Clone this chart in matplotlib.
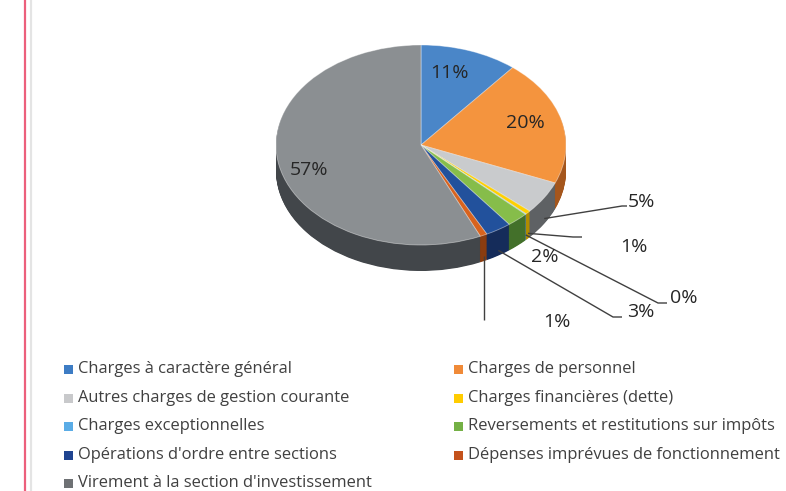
import matplotlib
matplotlib.use('Agg')
import matplotlib.pyplot as plt
import numpy as np
from matplotlib.patches import Rectangle
from matplotlib.lines import Line2D

# ---------------- data ----------------
categories = [
    "Charges à caractère général",
    "Charges de personnel",
    "Autres charges de gestion courante",
    "Charges financières (dette)",
    "Charges exceptionnelles",
    "Reversements et restitutions sur impôts",
    "Opérations d'ordre entre sections",
    "Dépenses imprévues de fonctionnement",
    "Virement à la section d'investissement",
]
values = [10.9, 20.3, 5.3, 0.6, 0.1, 2.4, 2.9, 0.8, 56.7]

top_colors = ["#4a86c8", "#f4943e", "#c9cbcd", "#ffd000", "#5aa9e0",
              "#86bd4a", "#22519c", "#d8631e", "#8b8f92"]
side_colors = ["#2c5a8c", "#a5561c", "#5e6164", "#b08c00", "#3a77a8",
               "#43702a", "#152c5a", "#8a3c10", "#42464a"]
legend_colors = ["#3d7cc4", "#f08a38", "#c8c9cb", "#ffcc00", "#5aace6",
                 "#74b045", "#1f4490", "#c4521c", "#6e7174"]

# ---------------- figure ----------------
W, H = 786, 491
fig = plt.figure(figsize=(W / 100, H / 100), dpi=100)
ax = fig.add_axes([0, 0, 1, 1])

CX, CY, RX, RY = 421, 145, 145, 100
DEPTH = 26
d = DEPTH / RY


def px2d(px, py):
    return ((px - CX) / RX, (CY - py) / RY)


# side (extruded) layers
N = 40
for k in range(N):
    off = -d + d * k / N
    ax.pie(values, colors=side_colors, startangle=90, counterclock=False,
           center=(0, off), radius=1,
           wedgeprops=dict(linewidth=0.3, edgecolor=None))
# top face
wedges, _ = ax.pie(values, colors=top_colors, startangle=90, counterclock=False,
                   center=(0, 0), radius=1,
                   wedgeprops=dict(linewidth=0.6, edgecolor=(1, 1, 1, 0.45)))

ax.set_aspect('auto')
ax.set_xlim((0 - CX) / RX, (W - CX) / RX)
ax.set_ylim((CY - H) / RY, CY / RY)
ax.axis('off')

total = sum(values)
labels = ["%d%%" % round(v / total * 100) for v in values]

FONT = ["Open Sans", "DejaVu Sans"]
TXT = "#262626"
LINE = "#404040"
LFS = 14

# inside labels (px positions)
inside_pos = {0: (449, 73), 1: (525, 123), 8: (309, 170)}
for i, (px, py) in inside_pos.items():
    x, y = px2d(px, py)
    ax.text(x, y, labels[i], ha='center', va='center', fontsize=LFS,
            color=TXT, family=FONT)

# outside labels with leader lines
outside = {
    2: dict(text=(641, 202), elbow=(622, 206), end=(627, 206)),
    3: dict(text=(634, 247), elbow=(573, 237), end=(582, 237)),
    4: dict(text=(684, 298), elbow=(658, 303), end=(667, 303)),
    5: dict(text=(545, 257), elbow=None, end=None),
    6: dict(text=(641, 312), elbow=(613, 317), end=(622, 317)),
    7: dict(text=(557, 322), elbow=None, end=(492, 320)),
}
for i, o in outside.items():
    w = wedges[i]
    m = np.deg2rad((w.theta1 + w.theta2) / 2)
    ax_, ay_ = np.cos(m), np.sin(m) - 0.8 * d
    pts = [(ax_, ay_)]
    if o['elbow'] is not None:
        pts.append(px2d(*o['elbow']))
    if o['end'] is not None:
        e = px2d(*o['end'])
        if o['elbow'] is None:
            e = (ax_, e[1])
        pts.append(e)
    if len(pts) > 1:
        xs, ys = zip(*pts)
        ax.plot(xs, ys, color=LINE, lw=1.0, solid_capstyle='butt')
    tx, ty = px2d(*o['text'])
    ax.text(tx, ty, labels[i], ha='center', va='center', fontsize=LFS,
            color=TXT, family=FONT)

# ---------------- legend (two columns, row-major) ----------------
rows_y = [369, 398, 426, 455, 483]
col_x = [(64, 78), (454, 468)]
MS = 9
for i, (name, col) in enumerate(zip(categories, legend_colors)):
    r, c = divmod(i, 2)
    mx, tx = col_x[c]
    y = rows_y[r]
    fig.patches.append(Rectangle((mx / W, 1 - (y + MS / 2) / H), MS / W, MS / H,
                                 transform=fig.transFigure, facecolor=col,
                                 edgecolor='none'))
    fig.text(tx / W, 1 - y / H, name, ha='left', va='center', fontsize=11.9,
             color="#404040", family=FONT)

# left border lines
fig.add_artist(Line2D([25 / W, 25 / W], [0, 1], color="#ec5f7c", lw=1.6,
                      transform=fig.transFigure))
fig.add_artist(Line2D([31.5 / W, 31.5 / W], [0, 1], color="#e4e4e4", lw=1.6,
                      transform=fig.transFigure))

fig.savefig("out.png", dpi=100, facecolor="white")
